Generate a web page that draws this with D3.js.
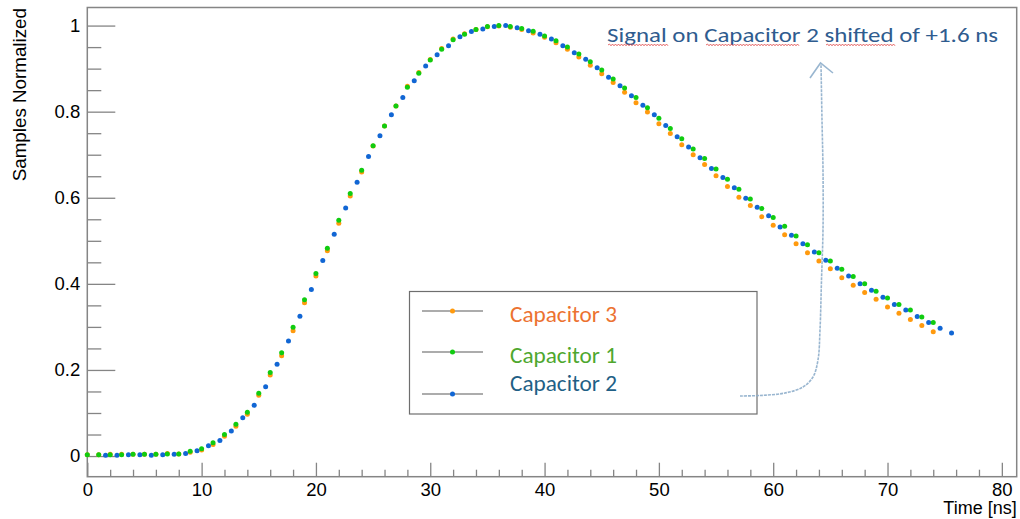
<!DOCTYPE html>
<html>
<head>
<meta charset="utf-8">
<script src="https://cdn.jsdelivr.net/npm/d3@7"></script>
<style>
  html, body { margin: 0; padding: 0; background: #fff; }
  svg { display: block; }
</style>
</head>
<body>
<svg id="chart" width="1020" height="519"></svg>
<script>
// ---------------- data ----------------
const samplePeriod = 1.0;      // ns between samples
const cap1Start = 0;           // ns, Capacitor 1 & 3
const cap2Start = 1.6;         // ns, Capacitor 2 (shifted of +1.6 ns)

const cap1Values = [0.003,0.003,0.003,0.003,0.004,0.004,0.004,0.005,0.005,0.011,
  0.017,0.031,0.050,0.074,0.102,0.146,0.194,0.240,0.299,0.363,
  0.424,0.483,0.548,0.610,0.664,0.721,0.767,0.813,0.857,0.889,
  0.920,0.945,0.967,0.980,0.991,0.998,1.000,0.998,0.993,0.987,
  0.976,0.965,0.950,0.934,0.916,0.897,0.876,0.855,0.833,0.809,
  0.785,0.761,0.737,0.713,0.691,0.667,0.643,0.620,0.597,0.575,
  0.554,0.534,0.511,0.491,0.472,0.453,0.434,0.417,0.400,0.383,
  0.367,0.352,0.339,0.323,0.310];

const cap3Values = [0.003,0.003,0.004,0.004,0.004,0.004,0.004,0.006,0.005,0.009,
  0.014,0.027,0.046,0.069,0.097,0.141,0.188,0.233,0.291,0.356,
  0.418,0.477,0.541,0.604,0.660,0.720,0.767,0.813,0.859,0.891,
  0.921,0.947,0.969,0.981,0.991,0.997,0.999,0.996,0.991,0.983,
  0.973,0.960,0.945,0.927,0.908,0.888,0.868,0.845,0.821,0.799,
  0.772,0.749,0.723,0.700,0.677,0.651,0.626,0.601,0.582,0.556,
  0.536,0.514,0.493,0.472,0.453,0.435,0.414,0.397,0.380,0.364,
  0.346,0.332,0.317,0.303,0.289];

const cap2Values = [0.002,0.002,0.003,0.003,0.002,0.003,0.004,0.006,0.012,0.024,
  0.036,0.058,0.089,0.118,0.161,0.213,0.267,0.325,0.387,0.454,
  0.515,0.576,0.636,0.696,0.744,0.793,0.833,0.872,0.906,0.932,
  0.953,0.974,0.986,0.992,0.998,1.000,0.995,0.988,0.980,0.969,
  0.953,0.937,0.922,0.902,0.880,0.860,0.837,0.815,0.793,0.768,
  0.742,0.718,0.693,0.668,0.647,0.623,0.599,0.578,0.558,0.532,
  0.513,0.493,0.474,0.455,0.436,0.418,0.400,0.385,0.369,0.352,
  0.339,0.324,0.310,0.297,0.286];

const seriesNames = ["Capacitor 3", "Capacitor 1", "Capacitor 2"];
const xMajorTicks = [0, 10, 20, 30, 40, 50, 60, 70, 80];
const yMajorTicks = [0, 0.2, 0.4, 0.6, 0.8, 1];
const xTitle = "Time [ns]";
const yTitle = "Samples Normalized";
const noteText = "Signal on Capacitor 2 shifted of +1.6 ns";

// ---------------- layout ----------------
const svg = d3.select("#chart");
const L = 87.3, R = 1016.7, T = 7.5, B = 476.7;

const x = d3.scaleLinear().domain([0, 81.3]).range([L, R]);
const y = d3.scaleLinear().domain([-0.048, 1.042]).range([B, T]);

const axisColor = "#858585";
const tickFont = "'Liberation Sans', Arial, Helvetica, sans-serif";

svg.append("rect").attr("width", 1020).attr("height", 519).attr("fill", "#fff");

// minor ticks
const xMinor = d3.range(0, 81, 2).filter(v => !xMajorTicks.includes(v));
const yMinor = d3.range(0, 21).map(i => i * 0.05).filter(v => !yMajorTicks.some(m => Math.abs(m - v) < 1e-6));

const gxMinor = svg.append("g").attr("transform", `translate(0,${B})`)
  .call(d3.axisBottom(x).tickValues(xMinor).tickSize(-7).tickFormat(""));
const gx = svg.append("g").attr("transform", `translate(0,${B})`)
  .call(d3.axisBottom(x).tickValues(xMajorTicks).tickSize(-14).tickPadding(6).tickFormat(d3.format("d")));
const gyMinor = svg.append("g").attr("transform", `translate(${L},0)`)
  .call(d3.axisLeft(y).tickValues(yMinor).tickSize(-14).tickFormat(""));
const gy = svg.append("g").attr("transform", `translate(${L},0)`)
  .call(d3.axisLeft(y).tickValues(yMajorTicks).tickSize(-28).tickPadding(7).tickFormat(d => d3.format("")(+d.toFixed(1))));

[gxMinor, gx, gyMinor, gy].forEach(g => {
  g.select(".domain").remove();
  g.selectAll(".tick line").attr("stroke", axisColor).attr("stroke-width", 1.3);
  g.selectAll(".tick text").attr("fill", "#000").style("font-family", tickFont).style("font-size", "18.5px");
});

// frame
svg.append("rect").attr("x", L).attr("y", T).attr("width", R - L).attr("height", B - T)
  .attr("fill", "none").attr("stroke", axisColor).attr("stroke-width", 1.5);

// axis titles
svg.append("text").attr("x", R).attr("y", 514).attr("text-anchor", "end")
  .style("font-family", tickFont).style("font-size", "18px").text(xTitle);
svg.append("text").attr("transform", `translate(25.5,${T + 0.5}) rotate(-90)`).attr("text-anchor", "end")
  .style("font-family", tickFont).style("font-size", "18.8px").text(yTitle);

// ---------------- series ----------------
const markerColors = { "Capacitor 3": "#ff9a0e", "Capacitor 1": "#10cc10", "Capacitor 2": "#1166d4" };
const series = [
  { name: "Capacitor 3", start: cap1Start, values: cap3Values },
  { name: "Capacitor 2", start: cap2Start, values: cap2Values },
  { name: "Capacitor 1", start: cap1Start, values: cap1Values }
];
series.forEach(s => {
  svg.append("g").selectAll("circle").data(s.values).join("circle")
    .attr("cx", (v, i) => x(s.start + i * samplePeriod))
    .attr("cy", v => y(v))
    .attr("r", 2.5)
    .attr("fill", markerColors[s.name]);
});

// ---------------- legend ----------------
const textFont = "Carlito, Calibri, Lato, 'Open Sans', sans-serif";
const legendTextColors = { "Capacitor 3": "#ec7230", "Capacitor 1": "#4ea72e", "Capacitor 2": "#1f5f86" };
svg.append("rect").attr("x", 409.5).attr("y", 291.5).attr("width", 347.5).attr("height", 122.5)
  .attr("fill", "#fff").attr("stroke", "#6e6e6e").attr("stroke-width", 1.2);
const legendRowsY = [311, 352, 394];
const legendTextY = [321.5, 363, 391];
seriesNames.forEach((name, i) => {
  const ly = legendRowsY[i];
  svg.append("line").attr("x1", 422).attr("x2", 483).attr("y1", ly).attr("y2", ly)
    .attr("stroke", "#5a5a5a").attr("stroke-width", 1.2);
  svg.append("circle").attr("cx", 452.5).attr("cy", ly).attr("r", 2.5).attr("fill", markerColors[name]);
  svg.append("text").attr("x", 510).attr("y", legendTextY[i])
    .attr("textLength", 107).attr("lengthAdjust", "spacingAndGlyphs")
    .style("font-family", textFont).style("font-size", "22px")
    .attr("fill", legendTextColors[name]).text(name);
});

// ---------------- annotation ----------------
svg.append("text").attr("x", 607).attr("y", 41.7)
  .attr("textLength", 391).attr("lengthAdjust", "spacingAndGlyphs")
  .style("font-family", textFont).style("font-size", "21px")
  .attr("fill", "#2f5c8f").text(noteText);

// spell-check squiggles
function squiggle(x0, x1, yy) {
  let p = `M${x0},${yy}`;
  let up = true;
  for (let xx = x0 + 1.5; xx <= x1; xx += 1.5) { p += `L${xx},${yy + (up ? -1 : 0.8)}`; up = !up; }
  return p;
}
[[608, 668], [706, 800], [826, 895]].forEach(([a, b]) => {
  svg.append("path").attr("d", squiggle(a, b, 45)).attr("fill", "none")
    .attr("stroke", "#e04848").attr("stroke-width", 0.8);
});

// hand-drawn arrow
const arrowPts = [[740, 396], [760, 395.5], [785, 393], [803, 387], [813, 377], [818, 360],
                  [820, 330], [821.5, 280], [823, 230], [823, 170], [822, 120], [821, 64]];
svg.append("path").attr("d", d3.line().curve(d3.curveCatmullRom)(arrowPts))
  .attr("fill", "none").attr("stroke", "#8eaecb").attr("stroke-width", 1.6)
  .attr("stroke-dasharray", "3,1").attr("opacity", 0.9);
svg.append("path").attr("d", "M810,78 L820.5,63 L833,73")
  .attr("fill", "none").attr("stroke", "#8eaecb").attr("stroke-width", 1.6).attr("opacity", 0.9);
</script>
</body>
</html>
